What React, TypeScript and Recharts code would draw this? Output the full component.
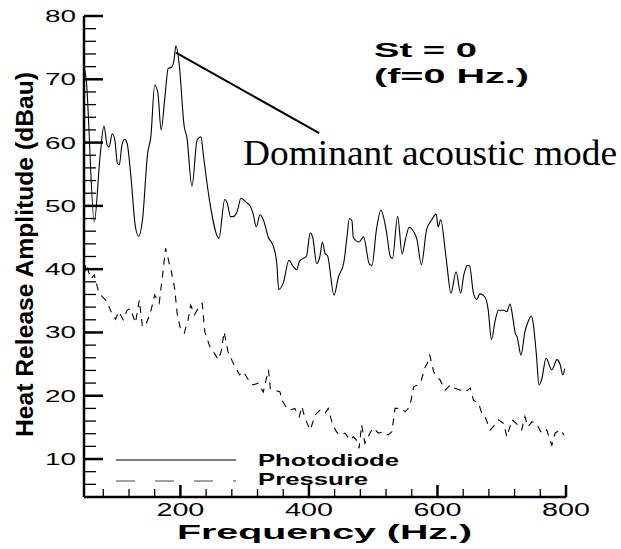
import { LineChart, Line, XAxis, YAxis, ReferenceLine, Legend } from 'recharts'

// photodiode spectrum (Hz, dB)
const photoFreq = [51, 53, 66, 75, 81, 86, 89, 94, 98, 102, 105, 109, 113, 117, 123, 130, 135, 141, 149, 154, 160, 165, 170, 176, 181, 186, 190, 193, 198, 206, 210, 218, 226, 232, 236, 246, 260, 269, 273, 278, 282, 289, 294, 303, 309, 313, 318, 324, 329, 337, 345, 350, 353, 360, 369, 375, 381, 385, 391, 396, 402, 406, 412, 417, 421, 425, 429, 439, 446, 454, 459, 463, 467, 469, 478, 485, 494, 498, 505, 512, 520, 527, 530, 538, 545, 550, 556, 563, 568, 575, 583, 591, 598, 601, 605, 612, 615, 621, 629, 636, 641, 647, 650, 656, 661, 666, 671, 676, 679, 684, 690, 695, 703, 708, 713, 717, 721, 724, 730, 736, 741, 746, 749, 754, 758, 762, 769, 778, 786, 791, 795, 798]
const photoAmp = [71.5, 70.4, 47.5, 57.8, 62.6, 59.6, 59.3, 61.4, 60.4, 56.7, 56.5, 59.6, 60.5, 59.9, 54.6, 46.7, 45.2, 47.8, 58.3, 60.9, 69.1, 67.8, 62.0, 67.3, 71.7, 71.9, 73.0, 75.3, 72.5, 62.5, 60.9, 53.1, 60.4, 60.9, 57.8, 50.4, 44.9, 51.0, 50.4, 48.3, 48.3, 49.3, 51.2, 50.5, 49.9, 48.8, 46.7, 48.6, 47.8, 45.0, 43.5, 40.9, 36.8, 37.8, 41.4, 40.5, 39.9, 41.2, 41.7, 42.0, 45.7, 45.0, 40.9, 42.0, 44.3, 42.5, 42.1, 35.9, 38.8, 40.9, 44.9, 48.0, 47.6, 45.0, 44.3, 45.1, 40.8, 40.6, 46.2, 49.3, 46.3, 41.9, 41.7, 48.3, 42.4, 44.6, 46.6, 45.9, 44.7, 40.7, 46.2, 47.8, 48.7, 46.7, 47.8, 43.0, 40.4, 36.2, 39.6, 36.2, 39.1, 40.6, 40.5, 36.2, 35.2, 36.1, 35.9, 35.1, 33.5, 28.9, 32.0, 33.5, 33.5, 33.3, 34.5, 32.5, 29.9, 29.3, 26.4, 30.1, 31.7, 32.6, 31.4, 26.4, 21.7, 22.5, 25.9, 24.1, 25.7, 24.9, 23.3, 24.3]

// pressure spectrum (Hz, dB)
const pressFreq = [51, 53, 58, 61, 66, 72, 78, 86, 91, 99, 104, 111, 117, 122, 130, 136, 141, 146, 153, 160, 167, 172, 177, 182, 186, 191, 195, 200, 206, 212, 216, 222, 229, 234, 238, 246, 251, 259, 264, 268, 274, 281, 292, 298, 306, 313, 321, 329, 337, 340, 355, 358, 364, 370, 378, 385, 389, 394, 402, 410, 417, 425, 430, 437, 443, 448, 456, 464, 469, 474, 478, 482, 487, 495, 500, 508, 516, 523, 529, 534, 542, 550, 557, 563, 569, 575, 581, 584, 588, 594, 599, 604, 612, 620, 627, 635, 643, 651, 656, 664, 669, 674, 682, 687, 695, 703, 708, 716, 723, 731, 736, 741, 747, 754, 762, 770, 778, 783, 791, 797]
const pressAmp = [39.5, 40.9, 39.3, 38.5, 39.1, 36.7, 35.7, 34.9, 33.5, 32.1, 33.3, 32.0, 33.5, 33.8, 31.5, 35.1, 30.9, 31.2, 33.0, 35.9, 34.6, 38.8, 43.3, 41.2, 39.6, 37.0, 33.0, 30.6, 29.9, 32.0, 34.3, 32.8, 34.1, 34.6, 30.1, 27.7, 27.0, 25.7, 27.2, 30.1, 27.0, 25.4, 23.3, 23.8, 22.5, 21.7, 22.0, 20.6, 24.1, 21.1, 20.6, 19.3, 18.3, 17.7, 18.0, 16.7, 18.3, 16.4, 14.6, 17.0, 17.7, 17.2, 18.0, 15.4, 14.3, 13.8, 14.1, 13.0, 13.5, 13.0, 11.7, 15.4, 12.5, 14.1, 14.9, 14.1, 14.3, 13.8, 14.3, 18.0, 18.0, 17.5, 18.3, 21.4, 21.7, 22.5, 24.6, 25.1, 26.4, 23.8, 23.0, 22.5, 20.9, 21.7, 21.2, 20.9, 20.6, 21.2, 19.3, 18.8, 17.2, 16.7, 14.6, 15.1, 16.2, 15.6, 13.5, 16.2, 15.6, 14.6, 16.7, 15.1, 15.9, 15.6, 14.1, 14.6, 12.2, 14.1, 14.6, 13.8]

const xTicks = [80, 120, 160, 200, 240, 280, 320, 360, 400, 440, 480, 520, 560, 600, 640, 680, 720, 760, 800]
const yTicks = [6, 8, 10, 12, 14, 16, 18, 20, 22, 24, 26, 28, 30, 32, 34, 36, 38, 40, 42, 44, 46, 48, 50, 52, 54, 56, 58, 60, 62, 64, 66, 68, 70, 72, 74, 76, 78, 80]

// peak of the dominant mode and where the pointer ends
const peakPoint = { x: 193, y: 74.2 }
const pointerEnd = { x: 416, y: 61.5 }

const photoData = photoFreq.map((f, i) => ({ f, amp: photoAmp[i] }))
const pressData = pressFreq.map((f, i) => ({ f, amp: pressAmp[i] }))

const SANS = 'Liberation Sans, Arial, sans-serif'

const XTick = ({ x, y, payload }: any) => {
    const major = payload.value % 200 === 0
    return (
        <g>
            <line x1={x} x2={x} y1={y} y2={y - (major ? 12 : 8)} stroke="#000" strokeWidth={major ? 2.5 : 1.3} />
            {major && (
                <text x={x} y={y + 19} textAnchor="middle" fontFamily={SANS} fontSize={18}
                    textLength={48} lengthAdjust="spacingAndGlyphs" fill="#000">
                    {payload.value}
                </text>
            )}
        </g>
    )
}

const YTick = ({ x, y, payload }: any) => {
    const major = payload.value % 10 === 0
    return (
        <g>
            <line x1={x} x2={x + (major ? 19 : 12)} y1={y} y2={y} stroke="#000" strokeWidth={major ? 2.5 : 1.3} />
            {major && (
                <text x={x - 8} y={y + 6} textAnchor="end" fontFamily={SANS} fontSize={16.5}
                    textLength={31} lengthAdjust="spacingAndGlyphs" fill="#000">
                    {payload.value}
                </text>
            )}
        </g>
    )
}

const LegendBox = () => (
    <svg width={300} height={45}>
        <line x1={6} x2={126} y1={12} y2={12} stroke="#000" strokeWidth={1.2} />
        <text x={148} y={18} fontFamily={SANS} fontWeight="bold" fontSize={17}
            textLength={141} lengthAdjust="spacingAndGlyphs">Photodiode</text>
        <line x1={6} x2={126} y1={33} y2={33} stroke="#444" strokeWidth={1.2} strokeDasharray="19 20" />
        <text x={148} y={37} fontFamily={SANS} fontWeight="bold" fontSize={17}
            textLength={110} lengthAdjust="spacingAndGlyphs">Pressure</text>
    </svg>
)

export default function App() {
    return (
        <div style={{ position: 'absolute', left: 0, top: 0, width: 621, height: 549, background: '#fff' }}>
            <LineChart width={621} height={549} margin={{ top: 16, right: 55, left: 24, bottom: 0 }}>
                <XAxis
                    type="number"
                    dataKey="f"
                    domain={[50, 800]}
                    ticks={xTicks}
                    interval={0}
                    allowDataOverflow
                    height={52}
                    tickSize={0}
                    tickMargin={0}
                    tick={<XTick />}
                    axisLine={{ stroke: '#000', strokeWidth: 2.5 }}
                />
                <YAxis
                    type="number"
                    domain={[4, 80]}
                    ticks={yTicks}
                    interval={0}
                    allowDataOverflow
                    width={60}
                    tickSize={0}
                    tickMargin={0}
                    tick={<YTick />}
                    axisLine={{ stroke: '#000', strokeWidth: 2.5 }}
                />
                <Legend
                    layout="horizontal"
                    verticalAlign="middle"
                    align="center"
                    content={<LegendBox />}
                    wrapperStyle={{ left: 110, top: 448, width: 300, height: 45 }}
                />
                <Line
                    data={pressData}
                    dataKey="amp"
                    name="Pressure"
                    type="linear"
                    stroke="#000"
                    strokeWidth={1.1}
                    strokeDasharray="7 6"
                    dot={false}
                    isAnimationActive={false}
                />
                <Line
                    data={photoData}
                    dataKey="amp"
                    name="Photodiode"
                    type="monotone"
                    stroke="#000"
                    strokeWidth={1.1}
                    dot={false}
                    isAnimationActive={false}
                />
                <ReferenceLine segment={[peakPoint, pointerEnd]} stroke="#000" strokeWidth={2} />
            </LineChart>
            <svg width={621} height={549} style={{ position: 'absolute', left: 0, top: 0, pointerEvents: 'none' }}>
                <text transform="translate(33,254.5) rotate(-90)" textAnchor="middle" fontFamily={SANS}
                    fontWeight="bold" fontSize={24} textLength={365} lengthAdjust="spacingAndGlyphs">
                    Heat Release Amplitude (dBau)
                </text>
                <text x={177} y={539} fontFamily={SANS} fontWeight="bold" fontSize={21}
                    textLength={295} lengthAdjust="spacingAndGlyphs">Frequency (Hz.)</text>
                <text x={374} y={57} fontFamily={SANS} fontWeight="bold" fontSize={21}
                    textLength={103} lengthAdjust="spacingAndGlyphs">St = 0</text>
                <text x={374} y={83} fontFamily={SANS} fontWeight="bold" fontSize={21}
                    textLength={155} lengthAdjust="spacingAndGlyphs">(f=0 Hz.)</text>
                <text x={243} y={165} fontFamily="Liberation Serif, Times New Roman, serif" fontSize={35}
                    textLength={374} lengthAdjust="spacingAndGlyphs">Dominant acoustic mode</text>
            </svg>
        </div>
    )
}
